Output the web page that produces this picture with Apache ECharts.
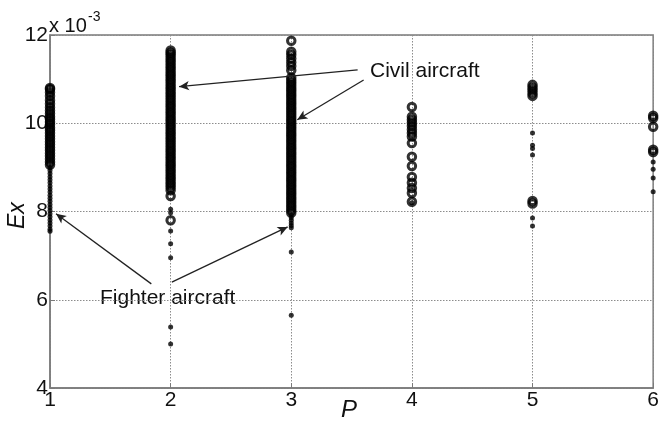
<!DOCTYPE html>
<html>
<head>
<meta charset="utf-8">
<script src="https://cdn.jsdelivr.net/npm/echarts@6/dist/echarts.min.js"></script>
<style>html,body{margin:0;padding:0;background:#fff}#c{width:662px;height:428px}</style>
</head>
<body>
<div id="c"></div>
<script>
// x ticks (P) and y ticks (Ex, in units of 1e-3)
var xTicks = [1, 2, 3, 4, 5, 6];
var yTicks = [4, 6, 8, 10, 12];

// Open circles (large markers), values in 1e-3
var p1Circles = [10.80, 10.77, 10.70, 10.62, 10.52, 10.44, 10.36, 10.29, 10.22, 10.15, 10.09, 10.03, 9.97, 9.90, 9.84, 9.78, 9.71, 9.65, 9.58, 9.52, 9.45, 9.39, 9.32, 9.26, 9.19, 9.12, 9.06];
var p2Circles = [11.65, 11.60, 11.55, 11.49, 11.43, 11.37, 11.31, 11.25, 11.19, 11.13, 11.07, 11.01, 10.95, 10.89, 10.83, 10.77, 10.71, 10.65, 10.59, 10.53, 10.47, 10.41, 10.35, 10.29, 10.23, 10.17, 10.11, 10.05, 9.99, 9.93, 9.87, 9.81, 9.75, 9.69, 9.63, 9.57, 9.51, 9.45, 9.39, 9.33, 9.27, 9.21, 9.15, 9.09, 9.03, 8.97, 8.91, 8.85, 8.79, 8.73, 8.67, 8.61, 8.55, 8.48, 8.35, 7.80];
var p3Circles = [11.87, 11.62, 11.55, 11.47, 11.38, 11.30, 11.20, 11.03, 10.97, 10.91, 10.85, 10.79, 10.73, 10.67, 10.61, 10.55, 10.49, 10.43, 10.37, 10.31, 10.25, 10.19, 10.13, 10.07, 10.01, 9.95, 9.89, 9.83, 9.77, 9.71, 9.65, 9.59, 9.53, 9.47, 9.41, 9.35, 9.29, 9.23, 9.17, 9.11, 9.05, 8.99, 8.93, 8.87, 8.81, 8.75, 8.69, 8.63, 8.57, 8.51, 8.45, 8.39, 8.33, 8.27, 8.21, 8.15, 8.09, 8.03, 7.97];
var p4Circles = [10.37, 10.15, 10.08, 10.01, 9.94, 9.86, 9.78, 9.70, 9.55, 9.24, 9.03, 8.78, 8.65, 8.53, 8.42, 8.22];
var p5Circles = [10.87, 10.81, 10.75, 10.68, 10.62, 8.24, 8.18];
var p6Circles = [10.17, 10.12, 9.92, 9.40, 9.35];

// Filled dots (small markers), values in 1e-3
var p1Dots = [9.00, 8.93, 8.86, 8.79, 8.72, 8.65, 8.58, 8.51, 8.44, 8.37, 8.30, 8.23, 8.16, 8.09, 8.02, 7.95, 7.88, 7.81, 7.74, 7.67, 7.60, 7.55];
var p2Dots = [8.05, 7.97, 7.56, 7.27, 6.95, 5.38, 5.00];
var p3Dots = [7.92, 7.86, 7.80, 7.74, 7.68, 7.63, 7.08, 5.65];
var p4Dots = [8.20];
var p5Dots = [9.78, 9.50, 9.43, 9.28, 7.85, 7.67];
var p6Dots = [9.12, 8.96, 8.76, 8.45];

function pts(p, arr) { return arr.map(function (v) { return [p, v]; }); }

var circleData = [].concat(pts(1, p1Circles), pts(2, p2Circles), pts(3, p3Circles), pts(4, p4Circles), pts(5, p5Circles), pts(6, p6Circles));
var dotData = [].concat(pts(1, p1Dots), pts(2, p2Dots), pts(3, p3Dots), pts(4, p4Dots), pts(5, p5Dots), pts(6, p6Dots));

var FONT = '"Liberation Sans", Arial, sans-serif';
var chart = echarts.init(document.getElementById('c'), null, { renderer: 'canvas' });

var arrowStyle = { color: '#222', width: 1.3, type: 'solid' };

chart.setOption({
  animation: false,
  backgroundColor: '#fff',
  grid: { left: 50, right: 4, top: 35, bottom: 40, show: true, borderColor: '#7a7a7a', borderWidth: 1.5, containLabel: false },
  xAxis: {
    type: 'value', min: 1, max: 6, interval: 1,
    axisLine: { show: true, onZero: false, lineStyle: { color: '#7a7a7a', width: 1.5 } },
    axisTick: { show: true, inside: true, length: 5, lineStyle: { color: '#7a7a7a' } },
    axisLabel: { color: '#111', fontSize: 21, fontFamily: FONT, margin: 2 },
    splitLine: { show: true, lineStyle: { color: '#8c8c8c', type: [1.5, 1.5], width: 1 } }
  },
  yAxis: {
    type: 'value', min: 4, max: 12, interval: 2,
    axisLine: { show: true, onZero: false, lineStyle: { color: '#7a7a7a', width: 1.5 } },
    axisTick: { show: true, inside: true, length: 5, lineStyle: { color: '#7a7a7a' } },
    axisLabel: { color: '#111', fontSize: 21, fontFamily: FONT, margin: 2 },
    splitLine: { show: true, lineStyle: { color: '#8c8c8c', type: [1.5, 1.5], width: 1 } }
  },
  series: [
    {
      type: 'scatter', data: circleData, symbol: 'circle', symbolSize: 7.5, clip: false,
      itemStyle: { color: 'rgba(0,0,0,0)', borderColor: '#000', borderWidth: 3 },
      emphasis: { disabled: true },
      markLine: {
        silent: true, symbol: ['none', 'arrow'], symbolSize: [7, 10],
        label: { show: false }, lineStyle: arrowStyle,
        data: [
          [{ coord: [3.55, 11.21] }, { coord: [2.07, 10.83] }],
          [{ coord: [3.60, 10.98] }, { coord: [3.05, 10.08] }],
          [{ coord: [1.84, 6.36] }, { coord: [1.05, 7.95] }],
          [{ coord: [2.01, 6.40] }, { coord: [2.97, 7.65] }]
        ]
      }
    },
    {
      type: 'scatter', data: dotData, symbol: 'circle', symbolSize: 5, clip: false,
      itemStyle: { color: '#000' }, emphasis: { disabled: true }
    }
  ],
  graphic: [
    { type: 'text', left: 49, top: 16, style: { text: 'x 10', font: '20px ' + FONT, fill: '#111' } },
    { type: 'text', left: 88, top: 10, style: { text: '-3', font: '14px ' + FONT, fill: '#111' } },
    { type: 'text', left: 370, top: 61, style: { text: 'Civil aircraft', font: '21px ' + FONT, fill: '#111' } },
    { type: 'text', left: 100, top: 288, style: { text: 'Fighter aircraft', font: '21px ' + FONT, fill: '#111' } },
    { type: 'text', left: 341, top: 398, style: { text: 'P', font: 'italic 24px ' + FONT, fill: '#111' } },
    { type: 'text', x: 6, y: 229, rotation: Math.PI / 2, style: { text: 'Ex', font: 'italic 23px ' + FONT, fill: '#111' } }
  ]
});
</script>
</body>
</html>
